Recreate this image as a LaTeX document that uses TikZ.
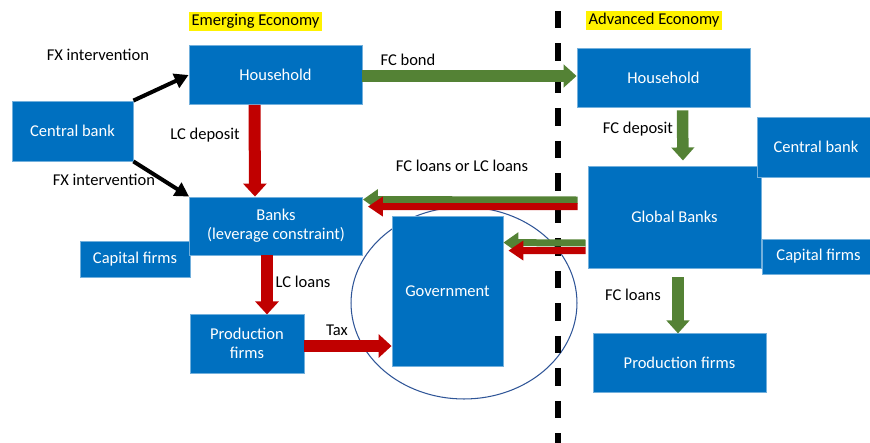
\documentclass[tikz,border=0pt]{standalone}
\usepackage{fontspec}
\setmainfont{Carlito}
\usepackage{tikz}
\usetikzlibrary{arrows,arrows.meta,shapes,positioning,calc}
\usepackage{xcolor}
\definecolor{ecblue}{RGB}{0,112,192}
\definecolor{ecred}{RGB}{192,0,0}
\definecolor{ecgreen}{RGB}{84,130,53}
\definecolor{ecring}{RGB}{47,85,151}
\tikzstyle{box} = [draw=ecblue!55!white, line width=0.5pt, fill=ecblue, text=white, align=center, inner sep=2pt]
\tikzstyle{lbl} = [text=black]
\tikzstyle{tag} = [fill=yellow, text=black, inner sep=1.5pt]
\tikzstyle{fatred} = [line width=0.24cm, color=ecred, -{Triangle[length=0.26cm,width=0.46cm]}]
\tikzstyle{fatgreen} = [line width=0.23cm, color=ecgreen, -{Triangle[length=0.26cm,width=0.45cm]}]
\tikzstyle{pairred} = [line width=0.14cm, color=ecred, -{Triangle[length=0.3cm,width=0.38cm]}]
\tikzstyle{pairgreen} = [line width=0.14cm, color=ecgreen, -{Triangle[length=0.3cm,width=0.4cm]}]
\tikzstyle{fxarrow} = [line width=0.08cm, black, -{Triangle[length=0.28cm,width=0.3cm]}]

\begin{document}
\begin{tikzpicture}[x=0.02cm, y=-0.02cm, font=\fontsize{9.4}{11}\selectfont]
\useasboundingbox (0,0) rectangle (870,443);
% Government ring
\node[draw=ecring, line width=0.6pt, ellipse, minimum width=4.52cm, minimum height=3.84cm] (ring) at (464,303) {};
% Border
\draw[line width=0.12cm, dash pattern=on 0.35cm off 0.3cm] (558,11) -- (558,443);

% Emerging economy
\node[tag] (emtag) at (255.5,21.5) {Emerging Economy};
\node[box, minimum width=2.42cm, minimum height=1.2cm] (cbE) at (72.5,131) {Central bank};
\node[box, minimum width=3.46cm, minimum height=1.18cm] (hhE) at (275.5,75) {Household};
\node[box, minimum width=2.2cm, minimum height=0.72cm] (capE) at (135,259) {Capital firms};
\node[box, minimum width=3.46cm, minimum height=1.16cm] (banks) at (276,226) {Banks\\(leverage constraint)};
\node[box, minimum width=2.28cm, minimum height=1.18cm] (prodE) at (247,343.5) {Production\\firms};
\node[box, minimum width=2.22cm, minimum height=3cm] (gov) at (447.5,291) {Government};

% Advanced economy
\node[tag] (aetag) at (654,20.5) {Advanced Economy};
\node[box, minimum width=3.46cm, minimum height=1.18cm] (hhA) at (663.5,77.5) {Household};
\node[box, minimum width=3.46cm, minimum height=2.04cm] (gb) at (674.5,217) {Global Banks};
\node[box, minimum width=2.36cm, minimum height=1.2cm] (cbA) at (816,147) {Central bank};
\node[box, minimum width=2.26cm, minimum height=0.7cm] (capA) at (818.5,256.5) {Capital firms};
\node[box, minimum width=3.46cm, minimum height=1.18cm] (prodA) at (679.5,362.5) {Production firms};

% Flows
\draw[fxarrow] (cbE.north east) -- (hhE.west);
\draw[fxarrow] (cbE.south east) -- (banks.north west);
\draw[fatred] ($(hhE.south)+(-21,0)$) -- ($(banks.north)+(-21,0)$);
\draw[fatred] ($(banks.south)+(-9,0)$) -- ($(banks.south)+(-9,59)$);
\draw[fatred] ($(prodE.east)+(0,2.5)$) -- ($(prodE.east -| gov.west)+(0,2.5)$);
\draw[fatgreen] ($(hhE.east)+(0,1)$) -- ($(hhE.east -| hhA.west)+(0,1)$);
\draw[fatgreen, shorten >=0.12cm] ($(hhA.south)+(19,3)$) -- ($(hhA.south -| gb.north)+(8.5,59)$);
\draw[fatgreen, shorten <=0.18cm] ($(gb.south)+(3.5,0)$) -- ($(gb.south)+(3.5,65)$);
\draw[pairgreen] ($(gb.west)+(-10,-17)$) -- ($(banks.north east)+(0,3)$);
\draw[pairred] ($(gb.west)+(-10,-10.5)$) -- ($(banks.north east)+(5,10)$);
\draw[pairgreen] ($(gb.west)+(-2,26)$) -- ($(gov.north east)+(0,27)$);
\draw[pairred] ($(gb.west)+(-2,33.5)$) -- ($(gov.north east)+(5,35)$);

% Labels
\node[lbl] (fx1) at (98,55) {FX intervention};
\node[lbl] (fx2) at (104,180) {FX intervention};
\node[lbl] (lcdep) at (205,135) {LC deposit};
\node[lbl] (fcbond) at (408,60) {FC bond};
\node[lbl] (fcdep) at (638,129) {FC deposit};
\node[lbl] (fcor) at (462,166) {FC loans or LC loans};
\node[lbl] (lcloans) at (303,282) {LC loans};
\node[lbl] (tax) at (337,330) {Tax};
\node[lbl] (fcloans) at (633,295) {FC loans};
\end{tikzpicture}
\end{document}
